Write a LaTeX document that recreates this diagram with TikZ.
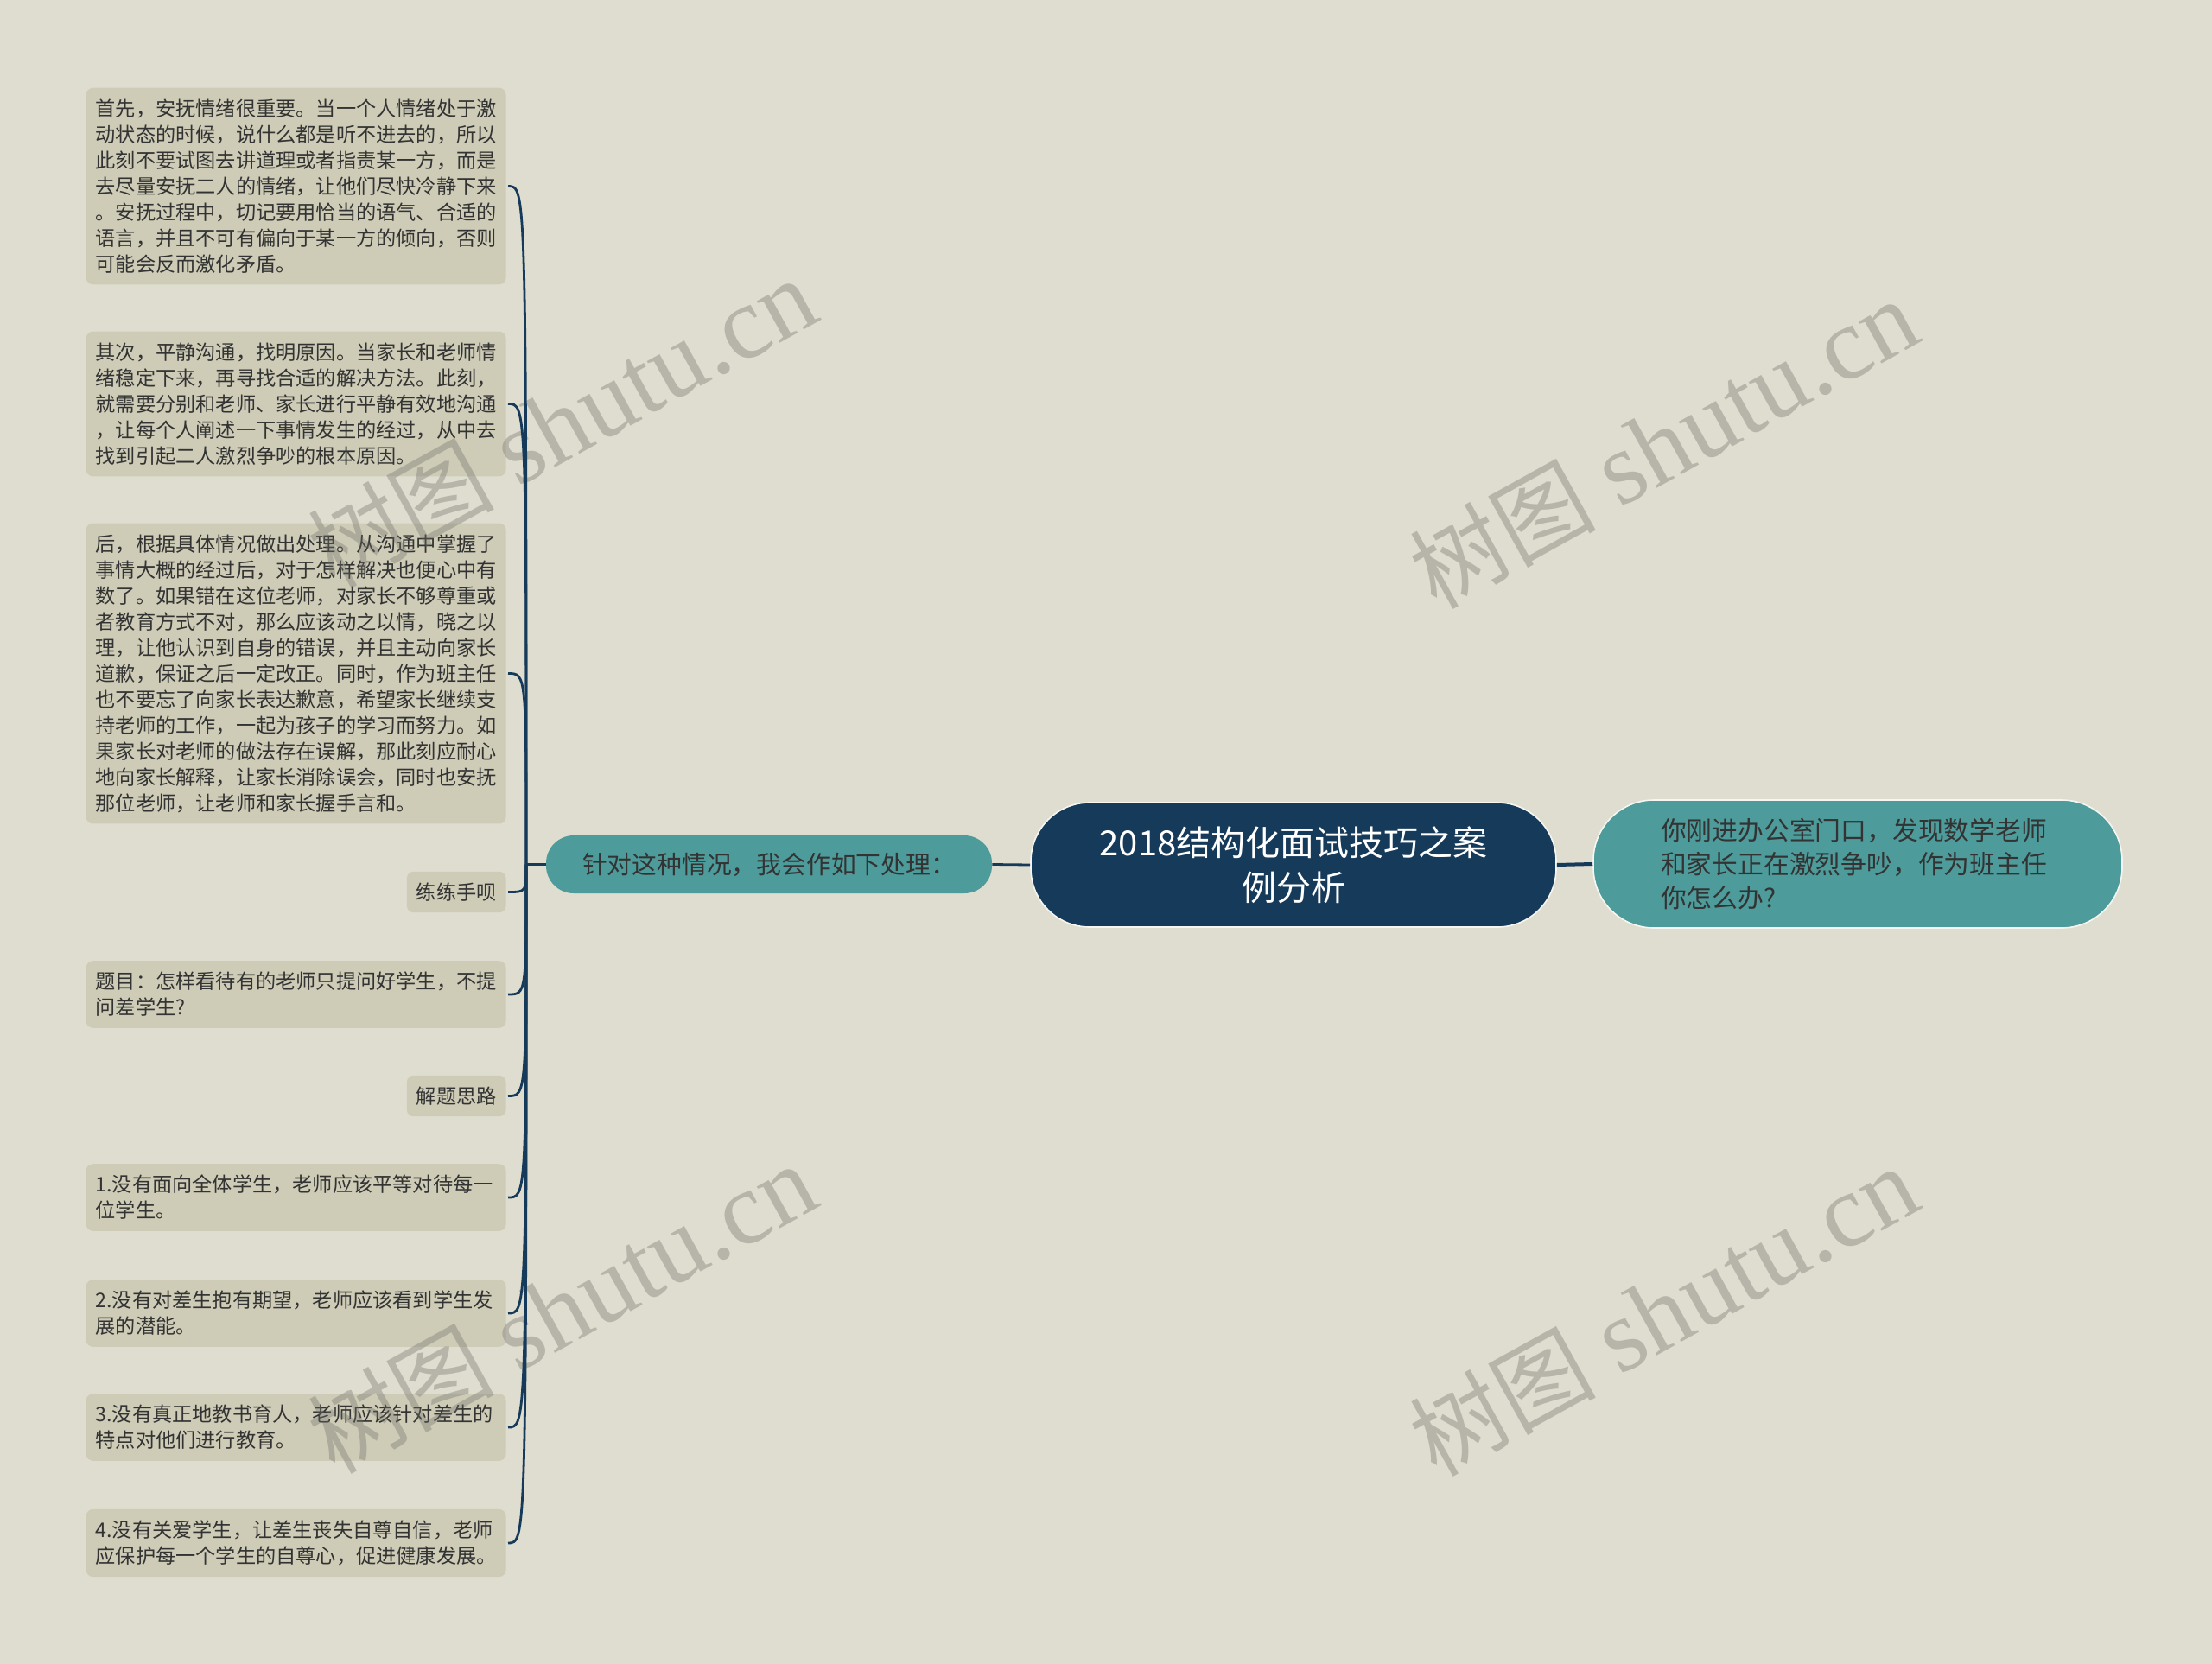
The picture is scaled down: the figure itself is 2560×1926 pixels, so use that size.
\documentclass[tikz,border=0pt]{standalone}
\usepackage{fontspec}
\setmainfont{Noto Sans CJK SC}
\newfontfamily\wmserif{Liberation Serif}
\definecolor{bgc}{HTML}{DFDDCF}
\definecolor{leafc}{HTML}{CECCB7}
\definecolor{navy}{HTML}{163A59}
\definecolor{teal}{HTML}{4D9B9A}
\definecolor{txtc}{HTML}{333333}
\definecolor{wmc}{HTML}{6E6D66}
\begin{document}
\begin{tikzpicture}[x=0.5pt,y=-0.5pt,
  leaf/.style={fill=leafc, rounded corners=4pt, anchor=east, inner xsep=5.5pt, inner ysep=6.5pt,
    font=\fontsize{11.6}{15}\selectfont, text=txtc, align=left},
  leafw/.style={leaf, text width=232pt},
  conn/.style={draw=navy, line width=1.4pt},
  wm/.style={text=wmc, text opacity=0.35, font=\fontsize{60}{62}\selectfont, rotate=29, inner sep=0pt}]
\fill[bgc] (0,0) rectangle (2560,1926);
% main nodes
\node[fill=navy, draw=white!70!bgc, line width=0.8pt, rounded corners=34pt, minimum width=304pt, minimum height=72pt,
  text=white, align=center, font=\fontsize{20}{26}\selectfont] (ctr) at (1497,1001)
  {2018结构化面试技巧之案\\例分析};
\node[fill=teal, draw=white!70!bgc, line width=0.8pt, rounded corners=35pt, minimum width=306pt, minimum height=74pt,
  text=txtc, align=left, text width=228pt, inner xsep=39pt, font=\fontsize{14.9}{19.6}\selectfont] (rt) at (2150,1000)
  {你刚进办公室门口，发现数学老师\\和家长正在激烈争吵，作为班主任\\你怎么办?};
\node[fill=teal, rounded corners=16pt, minimum width=258pt, minimum height=33.5pt,
  text=txtc, font=\fontsize{14.4}{18}\selectfont] (mid) at (890,1000.5)
  {针对这种情况，我会作如下处理：};
% leaves
\node[leafw] (l1) at (586,215.5) {首先，安抚情绪很重要。当一个人情绪处于激\\动状态的时候，说什么都是听不进去的，所以\\此刻不要试图去讲道理或者指责某一方，而是\\去尽量安抚二人的情绪，让他们尽快冷静下来\\。安抚过程中，切记要用恰当的语气、合适的\\语言，并且不可有偏向于某一方的倾向，否则\\可能会反而激化矛盾。};
\node[leafw] (l2) at (586,467.5) {其次，平静沟通，找明原因。当家长和老师情\\绪稳定下来，再寻找合适的解决方法。此刻，\\就需要分别和老师、家长进行平静有效地沟通\\，让每个人阐述一下事情发生的经过，从中去\\找到引起二人激烈争吵的根本原因。};
\node[leafw] (l3) at (586,779.5) {后，根据具体情况做出处理。从沟通中掌握了\\事情大概的经过后，对于怎样解决也便心中有\\数了。如果错在这位老师，对家长不够尊重或\\者教育方式不对，那么应该动之以情，晓之以\\理，让他认识到自身的错误，并且主动向家长\\道歉，保证之后一定改正。同时，作为班主任\\也不要忘了向家长表达歉意，希望家长继续支\\持老师的工作，一起为孩子的学习而努力。如\\果家长对老师的做法存在误解，那此刻应耐心\\地向家长解释，让家长消除误会，同时也安抚\\那位老师，让老师和家长握手言和。};
\node[leaf] (l4) at (586,1032.5) {练练手呗};
\node[leafw] (l5) at (586,1151) {题目：怎样看待有的老师只提问好学生，不提\\问差学生?};
\node[leaf] (l6) at (586,1268.5) {解题思路};
\node[leafw] (l7) at (586,1386) {1.没有面向全体学生，老师应该平等对待每一\\位学生。};
\node[leafw] (l8) at (586,1520) {2.没有对差生抱有期望，老师应该看到学生发\\展的潜能。};
\node[leafw] (l9) at (586,1652) {3.没有真正地教书育人，老师应该针对差生的\\特点对他们进行教育。};
\node[leafw] (l10) at (586,1786) {4.没有关爱学生，让差生丧失自尊自信，老师\\应保护每一个学生的自尊心，促进健康发展。};
% watermarks
\node[wm] (w1) at (650,490) {{\fontsize{54}{62}\selectfont 树图} {\wmserif shutu.cn}};
\node[wm] (w2) at (1925,514) {{\fontsize{54}{62}\selectfont 树图} {\wmserif shutu.cn}};
\node[wm] (w3) at (650,1515) {{\fontsize{54}{62}\selectfont 树图} {\wmserif shutu.cn}};
\node[wm] (w4) at (1925,1518) {{\fontsize{54}{62}\selectfont 树图} {\wmserif shutu.cn}};
% connectors
\coordinate (sp) at (609,1000.5);
\draw[conn, line width=2pt] (ctr.east) -- (rt.west);
\draw[conn] (mid.east) -- (ctr.west);
\draw[conn] (mid.west) -- (sp);
\foreach \n in {1,...,10}
  \draw[conn] (sp) .. controls (sp |- l\n.east) .. ([xshift=1pt]l\n.east);
\end{tikzpicture}
\end{document}
